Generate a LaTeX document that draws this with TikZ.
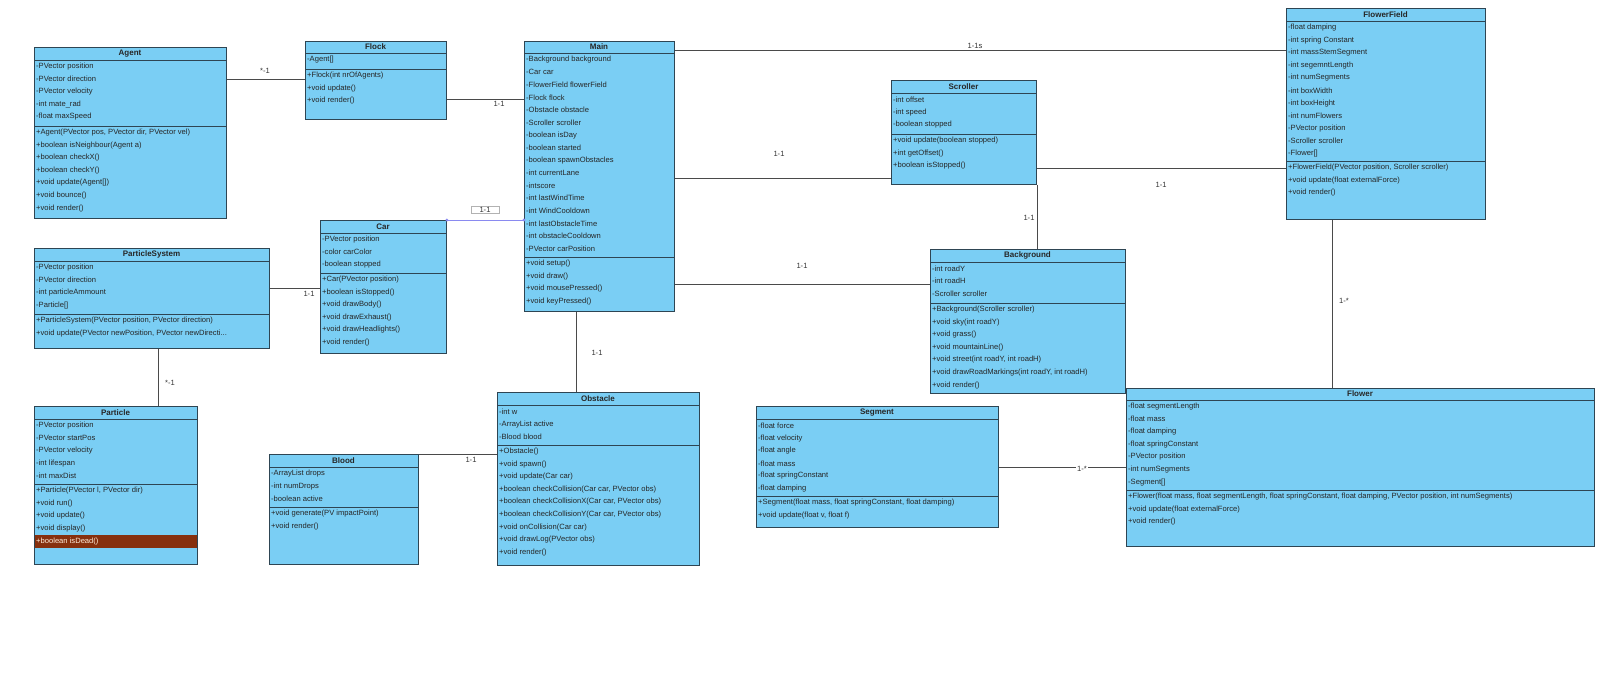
\documentclass[tikz,border=0pt]{standalone}
\usepackage{fontspec}
\setmainfont{Liberation Sans}
\definecolor{clsfill}{HTML}{7ACEF4}
\definecolor{clsdraw}{HTML}{2E4553}
\definecolor{conn}{HTML}{4A4A4A}
\definecolor{dead}{HTML}{86300E}
\definecolor{sel}{HTML}{8A8AF0}
\tikzset{
  cls/.style={draw=clsdraw, fill=clsfill, line width=0.9pt, inner sep=0pt, anchor=north west},
  sepl/.style={draw=clsdraw, line width=0.9pt},
  ttl/.style={font=\fontsize{8}{9}\selectfont\bfseries, inner sep=0pt, text=black!85},
  row/.style={font=\fontsize{7.6}{9}\selectfont, inner sep=0pt, anchor=west, text=black!85},
  con/.style={draw=conn, line width=0.8pt},
  lbl/.style={font=\fontsize{7.6}{9}\selectfont, inner sep=1.5pt, text=black!80},
}
\newcommand\umlbox[8]{%
  \node[cls, minimum width={(#4-#2)*1pt}, minimum height={(#5-#3)*1pt}] (#1) at (#2,#3) {};
  \draw[sepl] (#2,#6) -- (#4,#6);
  \draw[sepl] (#2,#7) -- (#4,#7);
  \node[ttl] (#1-t) at ({(#2+#4)/2},{(#3+#6)/2}) {#8};
}
\newcommand\rows[3]{%
  \foreach[count=\i] \t in {#3} \node[row] at ({#1+2},{#2+6.6+(\i-1)*12.6}) {\t};
}
\newcommand\threedots{.\kern0pt.\kern0pt.}
\begin{document}
\begin{tikzpicture}[x=1pt,y=-1pt]
\useasboundingbox[fill=white] (0,0) rectangle (1600,673);

\coordinate (ffx) at (1332,0);
\umlbox{agent}{34}{47}{226}{218}{60}{126}{Agent}
\umlbox{flock}{305}{41}{446}{119}{53}{69}{Flock}
\umlbox{main}{524}{41}{674}{311}{53}{257}{Main}
\umlbox{scroller}{891}{80}{1036}{184}{93}{134}{Scroller}
\umlbox{ff}{1286}{8}{1485}{219}{21}{161}{FlowerField}
\umlbox{car}{320}{220}{446}{353}{233}{273}{Car}
\umlbox{ps}{34}{248}{269}{348}{261}{314}{ParticleSystem}
\umlbox{bg}{930}{249}{1125}{393}{262}{303}{Background}
\umlbox{particle}{34}{406}{197}{564}{419}{484}{Particle}
\umlbox{blood}{269}{454}{418}{564}{467}{507}{Blood}
\umlbox{obstacle}{497}{392}{699}{565}{405}{445}{Obstacle}
\umlbox{segment}{756}{406}{998}{527}{419}{496}{Segment}
\umlbox{flower}{1126}{388}{1594}{546}{400}{490}{Flower}

\fill[dead] (34.5,535) rectangle (196.5,547.5);

\rows{34}{60}{-PVector position,-PVector direction,-PVector velocity,-int mate\_rad,-float maxSpeed}
\rows{34}{126}{{+Agent(PVector pos, PVector dir, PVector vel)},+boolean isNeighbour(Agent a),+boolean checkX(),+boolean checkY(),+void update(Agent[]),+void bounce(),+void render()}
\rows{305}{53}{-Agent[]}
\rows{305}{69}{+Flock(int nrOfAgents),+void update(),+void render()}
\rows{524}{53}{-Background background,-Car car,-FlowerField flowerField,-Flock flock,-Obstacle obstacle,-Scroller scroller,-boolean isDay,-boolean started,-boolean spawnObstacles,-int currentLane,-intscore,-int lastWindTime,-int WindCooldown,-int lastObstacleTime,-int obstacleCooldown,-PVector carPosition}
\rows{524}{257}{+void setup(),+void draw(),+void mousePressed(),+void keyPressed()}
\rows{891}{93}{-int offset,-int speed,-boolean stopped}
\rows{891}{134}{+void update(boolean stopped),+int getOffset(),+boolean isStopped()}
\rows{1286}{21}{-float damping,-int spring Constant,-int massStemSegment,-int segemntLength,-int numSegments,-int boxWidth,-int boxHeight,-int numFlowers,-PVector position,-Scroller scroller,-Flower[]}
\rows{1286}{161}{{+FlowerField(PVector position, Scroller scroller)},+void update(float externalForce),+void render()}
\rows{320}{233}{-PVector position,-color carColor,-boolean stopped}
\rows{320}{273}{+Car(PVector position),+boolean isStopped(),+void drawBody(),+void drawExhaust(),+void drawHeadlights(),+void render()}
\rows{34}{261}{-PVector position,-PVector direction,-int particleAmmount,-Particle[]}
\rows{34}{314}{{+ParticleSystem(PVector position, PVector direction)},{+void update(PVector newPosition, PVector newDirecti\threedots}}
\rows{930}{262}{-int roadY,-int roadH,-Scroller scroller}
\rows{930}{303}{+Background(Scroller scroller),+void sky(int roadY),+void grass(),+void mountainLine(),{+void street(int roadY, int roadH)},{+void drawRoadMarkings(int roadY, int roadH)},+void render()}
\rows{34}{419}{-PVector position,-PVector startPos,-PVector velocity,-int lifespan,-int maxDist}
\rows{34}{484}{{+Particle(PVector l, PVector dir)},+void run(),+void update(),+void display()}
\node[row, text=white!85!orange] (deadtxt) at (36,541.3) {+boolean isDead()};
\rows{269}{467}{-ArrayList drops,-int numDrops,-boolean active}
\rows{269}{507}{+void generate(PV impactPoint),+void render()}
\rows{497}{405}{-int w,-ArrayList active,-Blood blood}
\rows{497}{445}{+Obstacle(),+void spawn(),+void update(Car car),{+boolean checkCollision(Car car, PVector obs)},{+boolean checkCollisionX(Car car, PVector obs)},{+boolean checkCollisionY(Car car, PVector obs)},+void onCollision(Car car),+void drawLog(PVector obs),+void render()}
\rows{756}{419}{-float force,-float velocity,-float angle,-float mass,-float springConstant,-float damping}
\rows{756}{496}{{+Segment(float mass, float springConstant, float damping)},{+void update(float v, float f)}}
\rows{1126}{400}{-float segmentLength,-float mass,-float damping,-float springConstant,-PVector position,-int numSegments,-Segment[]}
\rows{1126}{490}{{+Flower(float mass, float segmentLength, float springConstant, float damping, PVector position, int numSegments)},+void update(float externalForce),+void render()}

% connectors
\draw[con] (agent.east |- 0,79) -- (flock.west |- 0,79);
\draw[con] (flock.east |- 0,99) -- (main.west |- 0,99);
\draw[con] (main.east |- 0,50) -- (ff.west |- 0,50);
\draw[con] (main.east |- 0,178) -- (scroller.west |- 0,178);
\draw[con] (scroller.east |- 0,168) -- (ff.west |- 0,168);
\draw[con] (scroller.south -| 1037,0) -- (bg.north -| 1037,0);
\draw[con] (main.east |- 0,284) -- (bg.west |- 0,284);
\draw[con] (ps.east |- 0,288) -- (car.west |- 0,288);
\draw[con] (ps.south -| 158,0) -- (particle.north -| 158,0);
\draw[con] (main.south -| 576,0) -- (obstacle.north -| 576,0);
\draw[con] (blood.east |- 0,454) -- (obstacle.west |- 0,454);
\draw[con] (segment.east |- 0,467) -- (flower.west |- 0,467);
\draw[con] (ff.south -| ffx) -- (flower.north -| ffx);
\draw[sel, line width=0.9pt] (car.north east) -- (main.west |- car.north east);
\fill[sel] (car.north east) circle (1.6) (main.west |- car.north east) circle (1.6);

% labels
\node[lbl] (l1) at (265,71) {*-1};
\node[lbl, fill=white] (l2) at (499,104) {1-1};
\node[lbl, draw=black!30, fill=white, minimum width=28pt, inner sep=1pt] (l3) at (485,210) {1-1};
\node[lbl] (l4) at (309,294) {1-1};
\node[lbl] (l5) at (975,46) {1-1s};
\node[lbl] (l6) at (779,154) {1-1};
\node[lbl] (l7) at (802,266) {1-1};
\node[lbl] (l8) at (1029,218) {1-1};
\node[lbl] (l9) at (1161,185) {1-1};
\node[lbl, fill=white] (l10) at (1344,301) {1-*};
\node[lbl] (l11) at (597,353) {1-1};
\node[lbl, fill=white] (l12) at (170,383) {*-1};
\node[lbl] (l13) at (471,460) {1-1};
\node[lbl, fill=white] (l14) at (1082,469) {1-*};
\end{tikzpicture}
\end{document}
